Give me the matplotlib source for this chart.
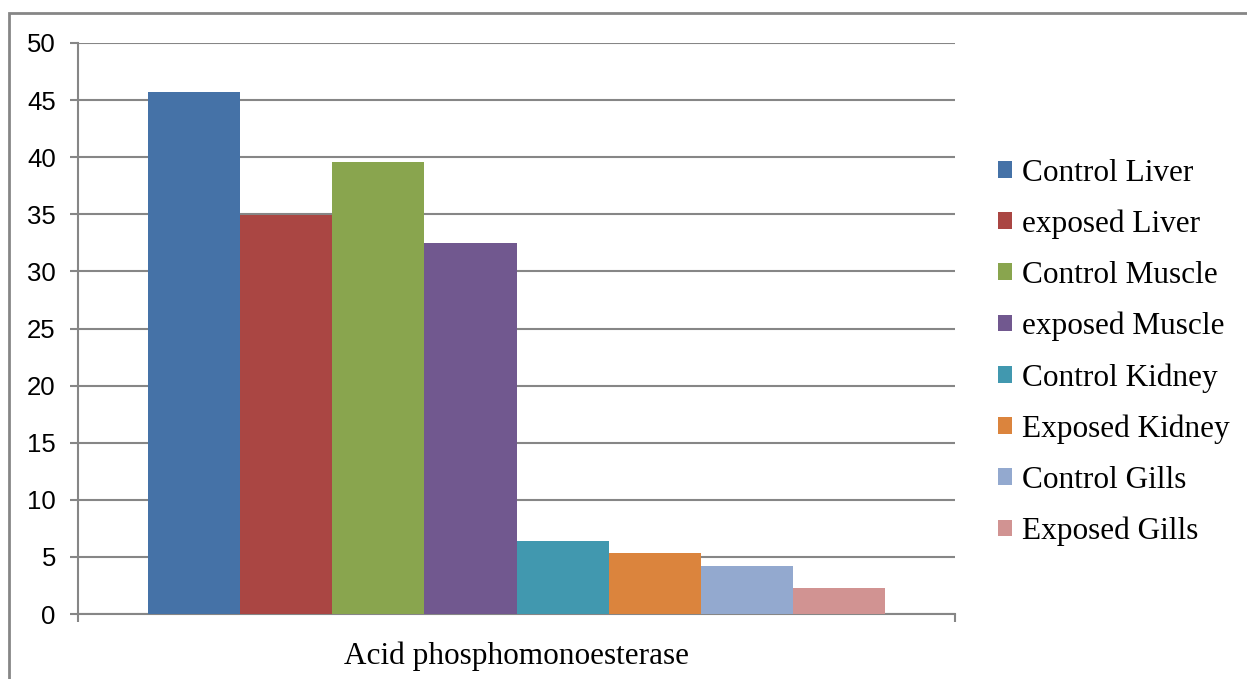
import matplotlib.pyplot as plt
from matplotlib.patches import Rectangle

# enzyme activity per tissue
series = ['Control Liver', 'exposed Liver', 'Control Muscle', 'exposed Muscle',
          'Control Kidney', 'Exposed Kidney', 'Control Gills', 'Exposed Gills']
values = [45.7, 34.9, 39.6, 32.5, 6.4, 5.3, 4.2, 2.3]
colors = ['#4572A7', '#AA4643', '#89A54E', '#71588F',
          '#4198AF', '#DB843D', '#93A9CF', '#D19392']
category = 'Acid phosphomonoesterase'
yticks = list(range(0, 51, 5))

grid_col = '#868686'

fig = plt.figure(figsize=(12.47, 6.79), dpi=100)
ax = fig.add_axes([0.0626, 0.0957, 0.7032, 0.841])

w = 0.105
for i, (name, v, c) in enumerate(zip(series, values, colors)):
    ax.bar((i - 3.5) * w, v, width=w, color=c, label=name, zorder=3)

ax.set_xlim(-0.5, 0.5)
ax.set_ylim(0, 50)
ax.set_yticks(yticks)
ax.yaxis.grid(True, color=grid_col, linewidth=1.5, zorder=0)

for side in ['top', 'right']:
    ax.spines[side].set_visible(False)
for side in ['left', 'bottom']:
    ax.spines[side].set_color(grid_col)
    ax.spines[side].set_linewidth(1.5)

ax.tick_params(axis='y', direction='out', length=6, width=1.5, color=grid_col,
               labelsize=18.5, pad=10)
for lab in ax.get_yticklabels():
    lab.set_family('Liberation Sans')

ax.set_xticks([0])
ax.set_xticklabels([category], family='Liberation Serif', fontsize=22.5)
ax.tick_params(axis='x', length=0, pad=20)
ax.set_xticks([-0.5, 0.5], minor=True)
ax.tick_params(axis='x', which='minor', length=6, width=1.5, color=grid_col)

fig.legend(loc='center left', bbox_to_anchor=(0.8002, 0.481), frameon=False,
           prop={'family': 'Liberation Serif', 'size': 22.5},
           handlelength=0.45, handleheight=0.45, handletextpad=0.32,
           labelspacing=0.70, borderpad=0, borderaxespad=0)

# chart frame
fig.patches.append(Rectangle((0.0072, -0.1), 1.1, 1.081, transform=fig.transFigure,
                             fill=False, edgecolor=grid_col, linewidth=2))

fig.savefig('out.png', dpi=100)
